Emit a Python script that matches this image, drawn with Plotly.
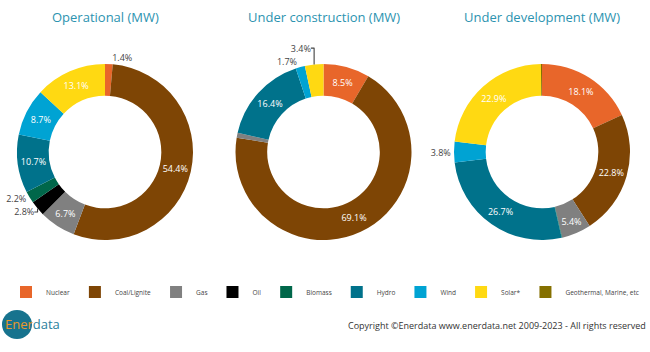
import plotly.graph_objects as go

categories = ["Nuclear", "Coal/Lignite", "Gas", "Oil", "Biomass", "Hydro", "Wind", "Solar*",
              "Geothermal, Marine, etc"]
colors = ["#E8662A", "#7E4505", "#808080", "#000000", "#00674A", "#00728B", "#00A3D3", "#FFD912", "#857000"]

operational = [1.4, 54.4, 6.7, 2.8, 2.2, 10.7, 8.7, 13.1, 0.0]
under_construction = [8.5, 69.1, 0.9, 0.0, 0.0, 16.4, 1.7, 3.4, 0.0]
under_development = [18.1, 22.8, 5.4, 0.0, 0.1, 26.7, 3.8, 22.9, 0.2]

titles = ["Operational (MW)", "Under construction (MW)", "Under development (MW)"]
series = [operational, under_construction, under_development]

W, H = 650, 352
centers_x = [105, 323.5, 542]
center_y = 152
R = 88

fig = go.Figure()
for i, (vals, title) in enumerate(zip(series, titles)):
    cx = centers_x[i]
    texts = [f"{v:.1f}%" if v >= 1 else "" for v in vals]
    positions = ["inside" if v >= 5 else "outside" for v in vals]
    fig.add_trace(go.Pie(
        labels=categories, values=vals, text=texts, textinfo="text",
        textposition=positions, insidetextorientation="horizontal",
        insidetextfont=dict(color="white", size=9, family="Open Sans"),
        outsidetextfont=dict(color="#444444", size=9, family="Open Sans"),
        marker=dict(colors=colors, line=dict(width=0)),
        hole=0.64, sort=False, direction="clockwise", rotation=0,
        domain=dict(x=[(cx - R) / W, (cx + R) / W],
                    y=[(H - center_y - R) / H, (H - center_y + R) / H]),
        showlegend=(i == 0), hoverinfo="label+percent",
    ))
    fig.add_annotation(text=title, x=cx / W, y=1 - 17 / H, xref="paper", yref="paper",
                       showarrow=False, xanchor="center", yanchor="middle",
                       font=dict(family="Open Sans", size=13, color="#2C93B0"))

# logo
fig.add_shape(type="circle", xref="paper", yref="paper",
              x0=2 / W, x1=32 / W, y0=1 - 339 / H, y1=1 - 310 / H,
              fillcolor="#17738E", line=dict(width=0))
fig.add_annotation(text="<span style='color:#E8982A'>Ener</span><span style='color:#2A7F9C'>data</span>",
                   x=3 / W, y=1 - 324 / H, xref="paper", yref="paper", showarrow=False,
                   xanchor="left", yanchor="middle", font=dict(family="Open Sans", size=13))
fig.add_annotation(text="Copyright ©Enerdata www.enerdata.net 2009-2023 - All rights reserved",
                   x=648 / W, y=1 - 325 / H, xref="paper", yref="paper", showarrow=False,
                   xanchor="right", yanchor="middle",
                   font=dict(family="Open Sans", size=9, color="#333333"))

fig.update_layout(
    width=W, height=H, margin=dict(l=0, r=0, t=0, b=0),
    paper_bgcolor="white", plot_bgcolor="white",
    legend=dict(orientation="h", x=0.5, xanchor="center", y=1 - 292 / H, yanchor="middle",
                font=dict(family="Open Sans", size=6.5, color="#444444"), itemwidth=30,
                traceorder="normal"),
)
fig.write_html("out.html")
